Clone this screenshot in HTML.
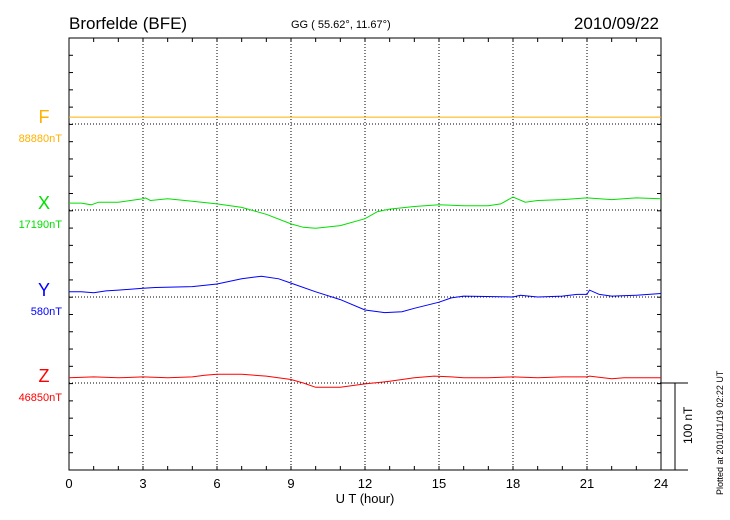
<!DOCTYPE html>
<html><head><meta charset="utf-8">
<style>
body{margin:0;background:#fff;}
svg{display:block;font-family:"Liberation Sans",sans-serif;}
</style></head>
<body>
<svg id="chart" width="730" height="520" viewBox="0 0 730 520">
<text x="69" y="29" font-size="17" fill="#000">Brorfelde (BFE)</text>
<text x="291" y="28" font-size="11" fill="#000">GG ( 55.62°,  11.67°)</text>
<text x="659" y="29" font-size="17" fill="#000" text-anchor="end">2010/09/22</text>
<g id="grid"></g>
<g id="axes"></g>
<g id="series"></g>
<text x="365" y="503" font-size="13" text-anchor="middle">U T (hour)</text>
<text transform="translate(723,495) rotate(-90)" font-size="9">Plotted at 2010/11/19 02:22 UT</text>
<line x1="661" y1="383" x2="688" y2="383" stroke="#000"/>
<line x1="675" y1="383" x2="675" y2="470" stroke="#000"/>
<line x1="661" y1="470" x2="688" y2="470" stroke="#000"/>
<text transform="translate(692,444) rotate(-90)" font-size="12">100 nT</text>
</svg>
<script>
const xTicks=[0,3,6,9,12,15,18,21,24];
const fHours=[0,24];
const fValues=[8,8];
const xHours=[0,0.5,0.9,1.2,2,3,3.1,3.3,4,5,6,7,8,9,9.5,10,11,12,12.5,13,14,15,16,17,17.5,18,18.5,19,20,21,22,23,24];
const xValues=[8,8,6,9,9,13,14,11,13,10,7,3,-5,-16,-20,-21,-18,-10,-2,1,4,6,5,5,7,15,9,11,12,14,12,14,13];
const yHours=[0,0.5,1,1.5,2,3,3.5,5,6,7,7.8,8.5,9,10,11,12,12.8,13.5,14,15,15.5,16,18,18.3,19,20,20.6,21,21.1,21.5,22,23,24];
const yValues=[6,6,5,7,8,10,11,12,15,21,24,21,16,6,-3,-15,-18,-17,-13,-6,-1,1,0,2,0,1,3,3,8,3,1,2,4];
const zHours=[0,1,2,3,4,5,5.5,6,7,8,9,9.5,10,11,12,13,14,14.8,15.5,16,17,18,19,20,21,21.1,22,22.5,23,24];
const zValues=[6,7,6,7,6,7,9,10,10,8,4,0,-5,-5,-1,2,6,8,7,6,6,7,6,7,7,8,5,6,6,6];
const NS="http://www.w3.org/2000/svg";
const L=69,R=661,T=38,B=470;
const px=h=>L+(R-L)*h/24;
const nT=0.8675; // px per nT
const bases={F:124,X:210,Y:297,Z:383};
function mk(tag,attrs,parent){const e=document.createElementNS(NS,tag);for(const k in attrs)e.setAttribute(k,attrs[k]);parent.appendChild(e);return e;}
const grid=document.getElementById('grid'),axes=document.getElementById('axes'),ser=document.getElementById('series');
xTicks.forEach(h=>{
  if(h>0&&h<24){const g=mk('line',{x1:px(h),y1:T,x2:px(h),y2:B,stroke:'#000','stroke-dasharray':'1,2','stroke-width':1},grid);
  
  }
  const t=mk('text',{x:px(h),y:488,'font-size':13,'text-anchor':'middle'},axes);t.textContent=h;
  
  
});
['F','X','Y','Z'].forEach(k=>{const g=mk('line',{x1:L,y1:bases[k],x2:R,y2:bases[k],stroke:'#000','stroke-dasharray':'1,2'},grid);
  
  });
mk('rect',{x:L,y:T,width:R-L,height:B-T,fill:'none',stroke:'#000','stroke-width':1},axes);
for(let h=1;h<24;h++){mk('line',{x1:px(h),y1:T,x2:px(h),y2:T+4,stroke:'#000'},axes);mk('line',{x1:px(h),y1:B,x2:px(h),y2:B-4,stroke:'#000'},axes);}
for(let i=1;i<25;i++){const y=T+i*(B-T)/25;mk('line',{x1:L,y1:y,x2:L+4,y2:y,stroke:'#000'},axes);mk('line',{x1:R,y1:y,x2:R-4,y2:y,stroke:'#000'},axes);}
function series(hours,vals,base,color,name){
  const pts=hours.map((h,i)=>px(h).toFixed(1)+','+(base-vals[i]*nT).toFixed(1)).join(' ');
  const p=mk('polyline',{points:pts,fill:'none',stroke:color,'stroke-width':1},ser);
  
  
}
series(fHours,fValues,bases.F,'#ffb000','series-f');
series(xHours,xValues,bases.X,'#00e000','series-x');
series(yHours,yValues,bases.Y,'#0000ff','series-y');
series(zHours,zValues,bases.Z,'#ff0000','series-z');
const labels=[['F','88880nT','#ffb000'],['X','17190nT','#00e000'],['Y','580nT','#0000ff'],['Z','46850nT','#ff0000']];
labels.forEach(([k,v,c])=>{
  const a=mk('text',{x:44,y:bases[k]-1,'font-size':18,'text-anchor':'middle',fill:c},axes);a.textContent=k;
  
  
  const b=mk('text',{x:62,y:bases[k]+18,'font-size':11,'text-anchor':'end',fill:c},axes);b.textContent=v;
  
  
});
</script>
</body></html>
